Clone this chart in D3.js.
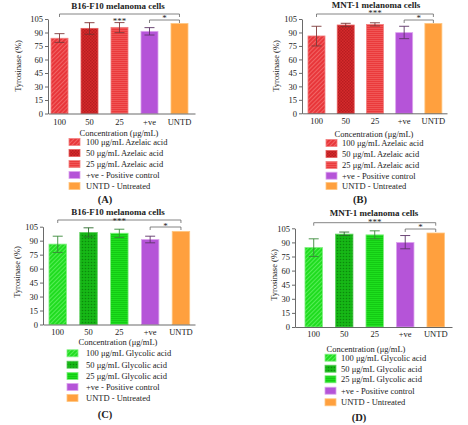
<!DOCTYPE html>
<html>
<head>
<meta charset="utf-8">
<script src="https://cdn.jsdelivr.net/npm/d3@7"></script>
<style>
  html, body { margin: 0; padding: 0; background: #fff; }
  svg { display: block; }
  text { font-family: "Liberation Serif", "Times New Roman", serif; fill: #222; }
</style>
</head>
<body>
<script>
// ---------------- DATA ----------------
const categories = ["100", "50", "25", "+ve", "UNTD"];
const yTicks = [0, 15, 30, 45, 60, 75, 90, 105];

const titleA = "B16-F10 melanoma cells";
const valuesA = [83.6, 94.6, 95.7, 91.3, 100];
const errLowA = [79.0, 88.0, 89.8, 87.2, 100];
const errHighA = [88.7, 100.9, 101.0, 95.4, 100];

const titleB = "MNT-1 melanoma cells";
const valuesB = [86.1, 98.3, 99.0, 89.8, 100];
const errLowB = [75.0, 96.5, 97.2, 83.1, 100];
const errHighB = [96.9, 100.2, 100.8, 96.9, 100];

const titleC = "B16-F10 melanoma cells";
const valuesC = [86.3, 98.8, 98.0, 91.3, 100];
const errLowC = [77.3, 94.0, 93.4, 87.7, 100];
const errHighC = [94.8, 103.8, 102.3, 94.8, 100];

const titleD = "MNT-1 melanoma cells";
const valuesD = [84.5, 98.8, 98.0, 89.9, 100];
const errLowD = [75.0, 97.3, 93.8, 83.2, 100];
const errHighD = [93.8, 101.0, 102.3, 97.3, 100];

const legendAzelaic = ["100 μg/mL Azelaic acid", "50 μg/mL Azelaic acid", "25 μg/mL Azelaic acid", "+ve - Positive control", "UNTD - Untreated"];
const legendGlycolic = ["100 μg/mL Glycolic acid", "50 μg/mL Glycolic acid", "25 μg/mL Glycolic acid", "+ve - Positive control", "UNTD - Untreated"];
const xAxisLabel = "Concentration (μg/mL)";
const yAxisLabel = "Tyrosinase (%)";
const panelLabels = ["(A)", "(B)", "(C)", "(D)"];
const sigAll = "***";
const sigPos = "*";

// ---------------- STYLE / LAYOUT ----------------
const W = 468, H = 425;
const svg = d3.select("body").append("svg").attr("width", W).attr("height", H);
svg.append("rect").attr("width", W).attr("height", H).attr("fill", "#fff");

const defs = svg.append("defs");
function patDiag(id, base, line) {
  const p = defs.append("pattern").attr("id", id).attr("patternUnits", "userSpaceOnUse")
    .attr("width", 3).attr("height", 3).attr("patternTransform", "rotate(45)");
  p.append("rect").attr("width", 3).attr("height", 3).attr("fill", base);
  p.append("line").attr("x1", 0.5).attr("y1", 0).attr("x2", 0.5).attr("y2", 3).attr("stroke", line).attr("stroke-width", 0.9);
}
function patHoriz(id, base, line) {
  const p = defs.append("pattern").attr("id", id).attr("patternUnits", "userSpaceOnUse")
    .attr("width", 2).attr("height", 2);
  p.append("rect").attr("width", 2).attr("height", 2).attr("fill", base);
  p.append("line").attr("x1", 0).attr("y1", 0.5).attr("x2", 2).attr("y2", 0.5).attr("stroke", line).attr("stroke-width", 0.7);
}
function patCheck(id, base, dark) {
  const p = defs.append("pattern").attr("id", id).attr("patternUnits", "userSpaceOnUse")
    .attr("width", 3).attr("height", 3);
  p.append("rect").attr("width", 3).attr("height", 3).attr("fill", base);
  p.append("rect").attr("x", 0).attr("y", 0).attr("width", 1.5).attr("height", 1.5).attr("fill", dark);
  p.append("rect").attr("x", 1.5).attr("y", 1.5).attr("width", 1.5).attr("height", 1.5).attr("fill", dark);
}
function patDots(id, base, dark) {
  const p = defs.append("pattern").attr("id", id).attr("patternUnits", "userSpaceOnUse")
    .attr("width", 3).attr("height", 3);
  p.append("rect").attr("width", 3).attr("height", 3).attr("fill", base);
  p.append("circle").attr("cx", 1.5).attr("cy", 1.5).attr("r", 0.8).attr("fill", dark);
}
patDiag("rDiag", "#e8363a", "#f26a6a");
patCheck("rCheck", "#d62a2c", "#b81d20");
patHoriz("rHoriz", "#ea3a3c", "#f26262");
patDiag("gDiag", "#20dc20", "#5cf05c");
patDots("gDots", "#16b816", "#0b8a0b");
patHoriz("gHoriz", "#1ee01e", "#10c010");

const redFills = ["url(#rDiag)", "url(#rCheck)", "url(#rHoriz)", "#b554d8", "#ffa03e"];
const greenFills = ["url(#gDiag)", "url(#gDots)", "url(#gHoriz)", "#b554d8", "#ffa03e"];
const redStroke = ["#f28080", "#e86060", "#f28080", "#dca4ee", "#ffc680"];
const greenStroke = ["#80f080", "#60d060", "#80f080", "#dca4ee", "#ffc680"];
const redErr = ["#7e3a3a", "#7e3030", "#7e3a3a", "#5d3468", "#a06020"];
const greenErr = ["#3a8a3a", "#2a6a2a", "#3a8a3a", "#5d3468", "#a06020"];

const panels = [
  { title: titleA, values: valuesA, lo: errLowA, hi: errHighA, legend: legendAzelaic, label: panelLabels[0],
    fills: redFills, strokes: redStroke, errs: redErr,
    x0: 48, xEnd: 195, pi: 0.433, po: 0.167, al: 0.3, y0: 113.5, y105: 19,
    titleX: 118, titleY: 8.5, ylabX: 18, ylabY: 66, tickPad: 5.5,
    br1Y: 14, star1Y: 23.6, br2Y: 20, star2Y: 21.3,
    concX: 119, concY: 136, legSwX: 69, legTxX: 86, legY: [142, 153, 164, 175, 186], labX: 105, labY: 203 },
  { title: titleB, values: valuesB, lo: errLowB, hi: errHighB, legend: legendAzelaic, label: panelLabels[1],
    fills: redFills, strokes: redStroke, errs: redErr,
    x0: 302, xEnd: 447, pi: 0.418, po: 0.19, al: 0.54, y0: 113.3, y105: 19,
    titleX: 376, titleY: 8, ylabX: 276, ylabY: 66, tickPad: 4.5,
    br1Y: 14, star1Y: 16, br2Y: 20, star2Y: 20.5,
    concX: 374, concY: 137, legSwX: 326, legTxX: 342, legY: [143, 154, 165, 175.7, 186], labX: 360, labY: 203 },
  { title: titleC, values: valuesC, lo: errLowC, hi: errHighC, legend: legendGlycolic, label: panelLabels[2],
    fills: greenFills, strokes: greenStroke, errs: greenErr,
    x0: 43, xEnd: 195, pi: 0.432, po: 0.183, al: 0.53, y0: 324.5, y105: 226.7,
    titleX: 118, titleY: 214.7, ylabX: 17, ylabY: 272, tickPad: 4.2,
    br1Y: 220, star1Y: 224.3, br2Y: 227, star2Y: 228.5,
    concX: 118, concY: 344.7, legSwX: 67, legTxX: 86, legY: [353.3, 364.7, 376, 387, 398], labX: 105, labY: 418 },
  { title: titleD, values: valuesD, lo: errLowD, hi: errHighD, legend: legendGlycolic, label: panelLabels[3],
    fills: greenFills, strokes: greenStroke, errs: greenErr,
    x0: 295, xEnd: 452, pi: 0.426, po: 0.287, al: 0.57, y0: 327, y105: 228.3,
    titleX: 374, titleY: 215.5, ylabX: 274, ylabY: 275, tickPad: 4.3,
    br1Y: 222.7, star1Y: 224.6, br2Y: 229, star2Y: 229.5,
    concX: 366, concY: 352, legSwX: 325, legTxX: 341, legY: [357.7, 368.7, 379.3, 390.7, 402.3], labX: 359, labY: 420.5 }
];

const axisColor = "#444";

panels.forEach(p => {
  const g = svg.append("g");
  const y = d3.scaleLinear().domain([0, 105]).range([p.y0, p.y105]);
  const x = d3.scaleBand().domain(categories).range([p.x0, p.xEnd])
    .paddingInner(p.pi).paddingOuter(p.po).align(p.al);

  // title
  g.append("text").attr("x", p.titleX).attr("y", p.titleY).attr("text-anchor", "middle")
    .attr("font-size", 9).attr("font-weight", "bold").text(p.title);

  // bars
  const rows = categories.map((c, i) => ({ c, i, v: p.values[i], lo: p.lo[i], hi: p.hi[i] }));
  g.selectAll("rect.bar").data(rows).join("rect").attr("class", "bar")
    .attr("x", d => x(d.c)).attr("width", x.bandwidth())
    .attr("y", d => y(d.v)).attr("height", d => y(0) - y(d.v))
    .attr("fill", d => p.fills[d.i]).attr("stroke", d => p.strokes[d.i]).attr("stroke-width", 0.8);

  // error bars
  const eb = rows.filter(d => d.hi !== d.lo);
  const cap = 5;
  g.selectAll("line.ev").data(eb).join("line")
    .attr("x1", d => x(d.c) + x.bandwidth() / 2).attr("x2", d => x(d.c) + x.bandwidth() / 2)
    .attr("y1", d => y(d.lo)).attr("y2", d => y(d.hi))
    .attr("stroke", d => p.errs[d.i]).attr("stroke-width", 0.9);
  g.selectAll("line.et").data(eb).join("line")
    .attr("x1", d => x(d.c) + x.bandwidth() / 2 - cap).attr("x2", d => x(d.c) + x.bandwidth() / 2 + cap)
    .attr("y1", d => y(d.hi)).attr("y2", d => y(d.hi))
    .attr("stroke", d => p.errs[d.i]).attr("stroke-width", 0.9);
  g.selectAll("line.eb").data(eb).join("line")
    .attr("x1", d => x(d.c) + x.bandwidth() / 2 - cap).attr("x2", d => x(d.c) + x.bandwidth() / 2 + cap)
    .attr("y1", d => y(d.lo)).attr("y2", d => y(d.lo))
    .attr("stroke", d => p.errs[d.i]).attr("stroke-width", 0.9);

  // axes
  const ya = g.append("g").attr("transform", `translate(${p.x0},0)`)
    .call(d3.axisLeft(y).tickValues(yTicks).tickSize(3).tickSizeOuter(0).tickPadding(2));
  ya.attr("font-family", null);
  ya.selectAll("text").attr("font-size", 8.5).attr("fill", "#222");
  ya.selectAll("line,path").attr("stroke", axisColor).attr("stroke-width", 0.8);

  const xa = g.append("g").attr("transform", `translate(0,${p.y0})`)
    .call(d3.axisBottom(x).tickSize(0).tickSizeOuter(0).tickPadding(p.tickPad));
  xa.attr("font-family", null);
  xa.selectAll("text").attr("font-size", 8.5).attr("fill", "#222");
  xa.selectAll("path").attr("stroke", axisColor).attr("stroke-width", 0.8);

  // y label
  g.append("text").attr("transform", `translate(${p.ylabX},${p.ylabY}) rotate(-90)`)
    .attr("text-anchor", "middle").attr("dy", "0.35em").attr("font-size", 8.5).text(yAxisLabel);

  // significance brackets
  const cx = c => x(c) + x.bandwidth() / 2;
  function bracket(a, b, by) {
    g.append("path").attr("d", `M${cx(a)},${by + 3}V${by}H${cx(b)}V${by + 3}`)
      .attr("fill", "none").attr("stroke", "#666").attr("stroke-width", 0.8);
  }
  bracket(categories[0], categories[4], p.br1Y);
  bracket(categories[3], categories[4], p.br2Y);
  g.append("text").attr("x", (cx(categories[0]) + cx(categories[4])) / 2).attr("y", p.star1Y)
    .attr("text-anchor", "middle").attr("font-size", 9).text(sigAll);
  g.append("text").attr("x", (cx(categories[3]) + cx(categories[4])) / 2).attr("y", p.star2Y)
    .attr("text-anchor", "middle").attr("font-size", 9).text(sigPos);

  // x label
  g.append("text").attr("class", "xlabel").attr("x", p.concX).attr("y", p.concY).attr("text-anchor", "middle")
    .attr("font-size", 8.5).attr("fill", "#222").text(xAxisLabel);

  // legend
  p.legend.forEach((t, i) => {
    g.append("rect").attr("x", p.legSwX).attr("y", p.legY[i] - 3.5).attr("width", 11).attr("height", 7)
      .attr("fill", p.fills[i]).attr("stroke", p.strokes[i]).attr("stroke-width", 0.8);
    g.append("text").attr("x", p.legTxX).attr("y", p.legY[i]).attr("dy", "0.35em")
      .attr("font-size", 8.5).text(t);
  });

  // panel label
  g.append("text").attr("x", p.labX).attr("y", p.labY).attr("text-anchor", "middle")
    .attr("font-size", 10.5).attr("font-weight", "bold").text(p.label);
});
</script>
</body>
</html>
